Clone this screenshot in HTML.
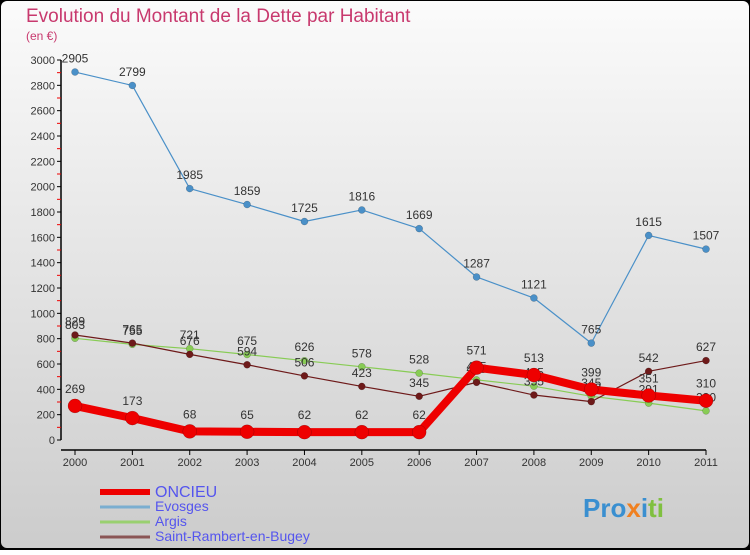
<!DOCTYPE html>
<html><head><meta charset="utf-8"><style>
body{margin:0;width:750px;height:550px;overflow:hidden;font-family:"Liberation Sans",sans-serif}
svg text{font-family:"Liberation Sans",sans-serif}
</style></head><body>
<svg id="c" width="750" height="550" xmlns="http://www.w3.org/2000/svg">
<defs><linearGradient id="bg" x1="0" y1="0" x2="0" y2="1"><stop offset="0" stop-color="#fbfbfb"/><stop offset="1" stop-color="#cccccc"/></linearGradient></defs>
<rect x="0" y="0" width="750" height="550" fill="#000"/>
<rect x="1" y="1" width="748" height="547" rx="6" fill="url(#bg)"/>
<text x="26" y="22" font-size="19" fill="#c8396e">Evolution du Montant de la Dette par Habitant</text>
<text x="26" y="40" font-size="12" fill="#c8396e">(en €)</text>
<g id="axes"></g><g id="series"></g><g id="legend"></g>
<text x="583" y="517" font-size="26" font-weight="bold" fill="#3a8fd0">Pro<tspan fill="#f08020">x</tspan><tspan fill="#3a8fd0">i</tspan><tspan fill="#80c040">ti</tspan></text>
</svg>
<script>
const years=["2000","2001","2002","2003","2004","2005","2006","2007","2008","2009","2010","2011"];
const yTicks=[0,200,400,600,800,1000,1200,1400,1600,1800,2000,2200,2400,2600,2800,3000];
const oncieu=[269,173,68,65,62,62,62,571,513,399,351,310];
const evosges=[2905,2799,1985,1859,1725,1816,1669,1287,1121,765,1615,1507];
const argis=[803,755,721,675,626,578,528,475,425,345,291,230];
const srb=[829,765,676,594,506,423,345,455,355,303,542,627];
const NS="http://www.w3.org/2000/svg";
function X(i){return 75+i*(706-75)/11;}
function Y(v){return 440-v*(380/3000);}
function mk(t,a,p){const e=document.createElementNS(NS,t);for(const k in a)e.setAttribute(k,a[k]);p.appendChild(e);return e;}
const ax=document.getElementById('axes');
const yl=mk('line',{x1:61,y1:Y(3000),x2:61,y2:440,stroke:'#000','stroke-width':1.5},ax);


const xl=mk('line',{x1:61,y1:450,x2:X(11),y2:450,stroke:'#000','stroke-width':1.5},ax);


yTicks.forEach(v=>{
 mk('line',{x1:57,y1:Y(v),x2:61,y2:Y(v),stroke:'#000'},ax);
 if(v<3000)mk('line',{x1:57,y1:Y(v+100),x2:61,y2:Y(v+100),stroke:'#e00'},ax);
 const t=mk('text',{x:55,y:Y(v)+4,'font-size':11,'text-anchor':'end',fill:'#333'},ax);t.textContent=v;
 
 
});
years.forEach((y,i)=>{
 mk('line',{x1:X(i),y1:450,x2:X(i),y2:455,stroke:'#000'},ax);
 const t=mk('text',{x:X(i),y:466,'font-size':11,'text-anchor':'middle',fill:'#333'},ax);t.textContent=y;
 
 
});
const sg=document.getElementById('series');
function series(d,col,w,r,name,above){
 const g=mk('g',{},sg);
 
 
 mk('polyline',{points:d.map((v,i)=>X(i)+','+Y(v)).join(' '),fill:'none',stroke:col,'stroke-width':w,'stroke-linejoin':'round'},g);
 d.forEach((v,i)=>{
  const c=mk('circle',{cx:X(i),cy:Y(v),r:r,fill:col,stroke:'rgba(0,0,0,0.3)','stroke-width':0.5},g);
  
  
  const t=mk('text',{x:X(i),y:Y(v)-(above?r+6:r+6),'font-size':12,'text-anchor':'middle',fill:'#333'},g);t.textContent=v;
  
  
 });
}
series(evosges,'#4a90c8',1.2,3.5,'evosges',true);
series(argis,'#88cc55',1.2,3.5,'argis',true);
series(srb,'#6e1a1a',1.2,3.5,'saint-rambert',true);
series(oncieu,'#ee0000',8,7,'oncieu',true);
const lg=document.getElementById('legend');
const items=[['ONCIEU','#ee0000',6,14],['Evosges','#7aaed0',3,10],['Argis','#99d070',3,10],['Saint-Rambert-en-Bugey','#8a5555',3,10]];
items.forEach((it,i)=>{
 const y=492+i*15;
 const l=mk('line',{x1:100,y1:y,x2:150,y2:y,stroke:it[1],'stroke-width':it[2]},lg);
 
 
 const t=mk('text',{x:155,y:y+(i==0?5:4),'font-size':i==0?16:14,fill:'#5555ee'},lg);t.textContent=it[0];
 
 
});
</script>
</body></html>
